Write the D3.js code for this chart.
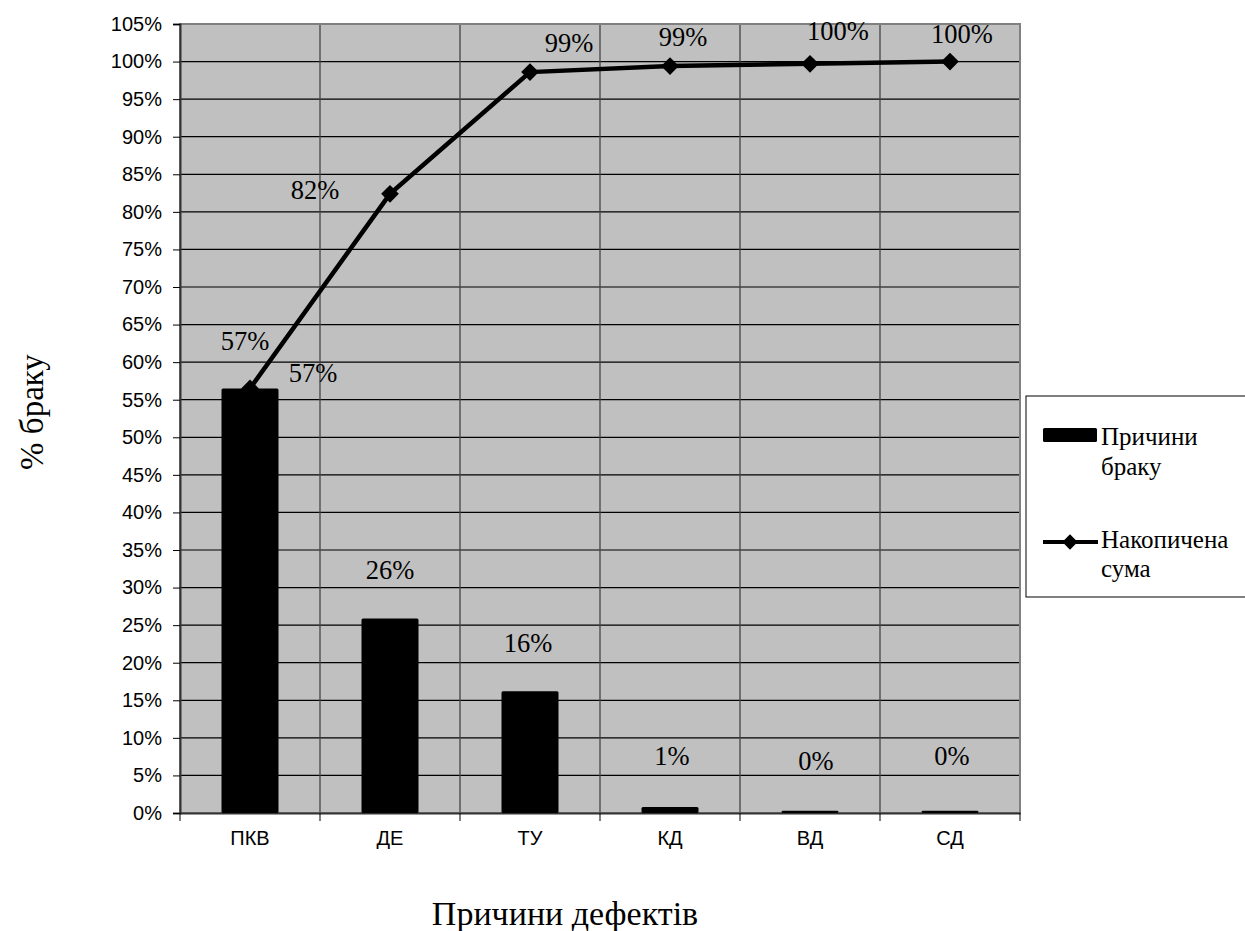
<!DOCTYPE html>
<html><head><meta charset="utf-8">
<script src="https://cdn.jsdelivr.net/npm/d3@7/dist/d3.min.js"></script>
<style>body{margin:0;background:#fff}svg{display:block}</style>
</head><body>
<svg id="c" width="1245" height="931"></svg>
<script>
const categories = ["ПКВ","ДЕ","ТУ","КД","ВД","СД"];
const barValues = [56.5, 25.9, 16.2, 0.8, 0.3, 0.3];
const cumValues = [56.5, 82.4, 98.6, 99.4, 99.7, 100.0];
const barLabels = ["57%","26%","16%","1%","0%","0%"];
const cumLabels = ["57%","82%","99%","99%","100%","100%"];
const yTicks = d3.range(0, 106, 5);
const seriesNames = ["Причини браку","Накопичена сума"];

const svg = d3.select("#c");
const L = 180, R = 1020, T = 24, B = 813;
const x = d3.scaleBand().domain(categories).range([L, R]).paddingInner(0).paddingOuter(0);
const y = d3.scaleLinear().domain([0, 105]).range([B, T]);
const serif = "'Liberation Serif','Times New Roman',serif";
const sans = "'Liberation Sans',Arial,sans-serif";

svg.append("rect").attr("x", L).attr("y", T).attr("width", R - L).attr("height", B - T).attr("fill", "#c0c0c0");
svg.append("g").selectAll("line").data(yTicks).join("line")
  .attr("x1", L).attr("x2", R).attr("y1", d => y(d)).attr("y2", d => y(d))
  .attr("stroke", "#000").attr("stroke-width", 1.2);
const bounds = categories.map(c => x(c)).concat([R]);
svg.append("g").selectAll("line").data(bounds.slice(1, -1)).join("line")
  .attr("x1", d => d).attr("x2", d => d).attr("y1", T).attr("y2", B)
  .attr("stroke", "#444").attr("stroke-width", 1.3);
svg.append("rect").attr("x", L).attr("y", T).attr("width", R - L).attr("height", B - T)
  .attr("fill", "none").attr("stroke", "#808080").attr("stroke-width", 2);

const yAxis = d3.axisLeft(y).tickValues(yTicks).tickFormat(d => d + "%").tickSize(7).tickPadding(11);
const gy = svg.append("g").attr("transform", `translate(${L},0)`).call(yAxis);
gy.attr("font-size", 20).attr("font-family", sans);
gy.select(".domain").attr("stroke", "#333").attr("stroke-width", 2);
gy.selectAll(".tick line").attr("stroke", "#000");
gy.selectAll(".tick text").attr("font-size", 20).attr("fill", "#000");

const xAxis = d3.axisBottom(x).tickSize(0).tickPadding(18);
const gx = svg.append("g").attr("transform", `translate(0,${B})`).call(xAxis);
gx.attr("font-size", 20).attr("font-family", sans);
gx.select(".domain").attr("stroke", "#333").attr("stroke-width", 2);
gx.selectAll(".tick text").attr("font-size", 20).attr("fill", "#000");
svg.append("g").selectAll("line").data(bounds).join("line")
  .attr("x1", d => d).attr("x2", d => d).attr("y1", B).attr("y2", B + 8)
  .attr("stroke", "#000");

const bw = 57;
svg.append("g").selectAll("rect").data(barValues).join("rect")
  .attr("x", (d, i) => x(categories[i]) + x.bandwidth() / 2 - bw / 2)
  .attr("y", d => y(d)).attr("width", bw).attr("height", d => B - y(d))
  .attr("fill", "#000").attr("rx", 1.5);

const cx = i => x(categories[i]) + x.bandwidth() / 2;
svg.append("path").datum(cumValues)
  .attr("d", d3.line().x((d, i) => cx(i)).y(d => y(d)))
  .attr("fill", "none").attr("stroke", "#000").attr("stroke-width", 4.5);
const diamond = d3.symbol().type(d3.symbolDiamond2).size(200);
svg.append("g").selectAll("path").data(cumValues).join("path")
  .attr("transform", (d, i) => `translate(${cx(i)},${y(d)})`)
  .attr("d", diamond).attr("fill", "#000");

const barLabelPos = [[63, -6], [0, -39], [-2, -39], [2, -42], [6, -41], [2, -46]];
svg.append("g").selectAll("text").data(barValues).join("text")
  .attr("x", (d, i) => cx(i) + barLabelPos[i][0]).attr("y", (d, i) => y(d) + barLabelPos[i][1])
  .attr("text-anchor", "middle").attr("font-family", serif).attr("font-size", 26.5)
  .text((d, i) => barLabels[i]);
const cumLabelPos = [[-5, -38], [-75, 5], [39, -20], [13, -20], [28, -24], [12, -19]];
svg.append("g").selectAll("text").data(cumValues).join("text")
  .attr("x", (d, i) => cx(i) + cumLabelPos[i][0]).attr("y", (d, i) => y(d) + cumLabelPos[i][1])
  .attr("text-anchor", "middle").attr("font-family", serif).attr("font-size", 26.5)
  .text((d, i) => cumLabels[i]);

svg.append("text").attr("transform", "translate(43,412) rotate(-90)")
  .attr("text-anchor", "middle").attr("font-family", serif).attr("font-size", 33).text("% браку");
svg.append("text").attr("x", 565).attr("y", 925)
  .attr("text-anchor", "middle").attr("font-family", serif).attr("font-size", 34).text("Причини дефектів");

const lg = svg.append("g");
lg.append("rect").attr("x", 1026).attr("y", 396).attr("width", 230).attr("height", 201)
  .attr("fill", "#fff").attr("stroke", "#000").attr("stroke-width", 1);
lg.append("rect").attr("x", 1043).attr("y", 428).attr("width", 54).attr("height", 14).attr("fill", "#000").attr("rx", 1.5);
lg.append("line").attr("x1", 1043).attr("x2", 1098).attr("y1", 542).attr("y2", 542).attr("stroke", "#000").attr("stroke-width", 4);
lg.append("path").attr("transform", "translate(1070,542)").attr("d", d3.symbol().type(d3.symbolDiamond2).size(150)).attr("fill", "#000");
const legLines = [[seriesNames[0].split(" ")[0], 445], [seriesNames[0].split(" ")[1], 475], [seriesNames[1].split(" ")[0], 548], [seriesNames[1].split(" ")[1], 577]];
lg.selectAll("text").data(legLines).join("text")
  .attr("x", 1101).attr("y", d => d[1]).attr("font-family", serif).attr("font-size", 25).text(d => d[0]);
</script>
</body></html>
